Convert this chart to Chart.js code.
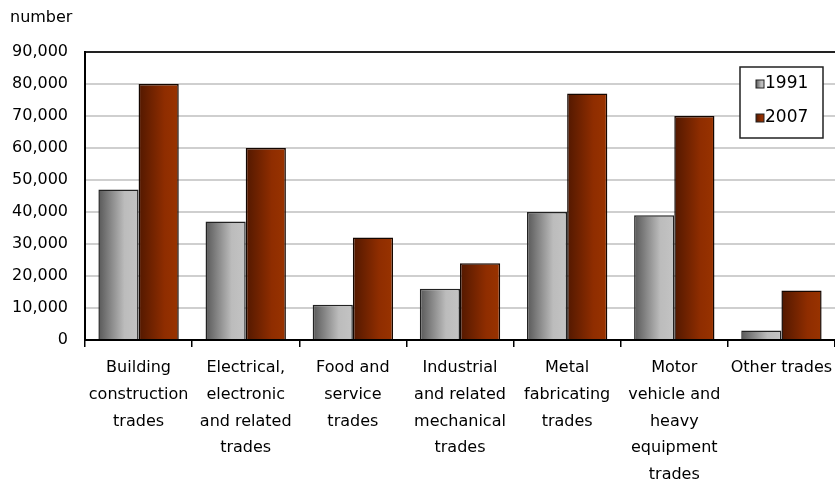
<!DOCTYPE html>
<html lang="en">
<head>
  <meta charset="UTF-8">
  <title>Trades</title>
  <script src="https://cdn.jsdelivr.net/npm/chart.js"></script>
  <style>
    body { margin: 0; background: #fff; }
    .chart-container { width: 835px; height: 479px; position: relative; }
  </style>
</head>
<body>
  <div class="chart-container">
    <canvas id="dataChart"></canvas>
  </div>

  <script>
    // data
    const categories = [
      ['Building', 'construction', 'trades'],
      ['Electrical,', 'electronic', 'and related', 'trades'],
      ['Food and', 'service', 'trades'],
      ['Industrial', 'and related', 'mechanical', 'trades'],
      ['Metal', 'fabricating', 'trades'],
      ['Motor', 'vehicle and', 'heavy', 'equipment', 'trades'],
      ['Other trades']
    ];
    const years = ['1991', '2007'];
    const values1991 = [47000, 37000, 11000, 16000, 40000, 39000, 3000];
    const values2007 = [80000, 60000, 32000, 24000, 77000, 70000, 15500];
    const yTicks = [0, 10000, 20000, 30000, 40000, 50000, 60000, 70000, 80000, 90000];

    const FONT = 'DejaVu Sans';
    const CAT_PCT = 0.75;
    const grayStops = [[0, '#585858'], [0.65, '#bcbcbc'], [1, '#c4c4c4']];
    const redStops = [[0, '#521800'], [0.65, '#8f2d00'], [1, '#993300']];

    function makeGradient(c, x0, x1, stops) {
      const g = c.createLinearGradient(x0, 0, x1, 0);
      stops.forEach(s => g.addColorStop(s[0], s[1]));
      return g;
    }

    // horizontal gradient across each single bar
    function barFill(stops) {
      return function (ctx) {
        const chart = ctx.chart;
        const xs = chart.scales.x;
        if (!chart.chartArea || !xs || ctx.dataIndex === undefined) return stops[1][1];
        const center = xs.getPixelForValue(ctx.dataIndex);
        const bw = (xs.width / categories.length) * CAT_PCT / 2;
        const left = center - bw + ctx.datasetIndex * bw;
        return makeGradient(chart.ctx, left, left + bw, stops);
      };
    }

    // "number" unit label and the boxed legend
    const extras = {
      id: 'extras',
      afterDraw(chart) {
        const c = chart.ctx;
        const area = chart.chartArea;
        c.save();
        c.font = '16px "' + FONT + '"';
        c.fillStyle = '#000';
        c.textBaseline = 'middle';
        c.textAlign = 'left';
        c.fillText('number', 10, 18);

        const bx = area.right - 95, by = area.top + 15, bwid = 83, bh = 71;
        c.fillStyle = '#fff';
        c.fillRect(bx, by, bwid, bh);
        c.strokeStyle = '#222';
        c.lineWidth = 1.5;
        c.strokeRect(bx, by, bwid, bh);

        c.font = '17px "' + FONT + '"';
        chart.data.datasets.forEach((ds, i) => {
          const sy = by + 17 + i * 34;
          const sx = bx + 16;
          const stops = i === 0 ? grayStops : redStops;
          c.fillStyle = makeGradient(c, sx, sx + 8, stops);
          c.fillRect(sx, sy - 4, 8, 8);
          c.strokeStyle = '#222';
          c.lineWidth = 1;
          c.strokeRect(sx, sy - 4, 8, 8);
          c.fillStyle = '#000';
          c.fillText(ds.label, sx + 9, sy);
        });
        c.restore();
      }
    };

    const ctx = document.getElementById('dataChart').getContext('2d');
    new Chart(ctx, {
      type: 'bar',
      data: {
        labels: categories,
        datasets: [
          {
            label: years[0],
            data: values1991,
            backgroundColor: barFill(grayStops),
            borderColor: '#222',
            borderWidth: 1.5,
            categoryPercentage: CAT_PCT,
            barPercentage: 1
          },
          {
            label: years[1],
            data: values2007,
            backgroundColor: barFill(redStops),
            borderColor: '#140600',
            borderWidth: 1.5,
            categoryPercentage: CAT_PCT,
            barPercentage: 1
          }
        ]
      },
      options: {
        responsive: true,
        maintainAspectRatio: false,
        animation: false,
        layout: { padding: { top: 52, left: 10, right: 0, bottom: 0 } },
        plugins: {
          legend: { display: false },
          tooltip: { enabled: false }
        },
        scales: {
          x: {
            afterFit(scale) {
              scale.height = 139;
              scale.paddingLeft = 0;
              scale.paddingRight = 0;
            },
            grid: {
              drawOnChartArea: false,
              drawTicks: true,
              tickLength: 7,
              color: '#000',
              lineWidth: 1.5
            },
            border: { color: '#000', width: 2 },
            ticks: {
              color: '#000',
              font: { family: FONT, size: 16, lineHeight: 1.66 },
              maxRotation: 0,
              autoSkip: false,
              padding: 8
            }
          },
          y: {
            min: 0,
            max: 90000,
            afterBuildTicks(scale) {
              scale.ticks = yTicks.map(v => ({ value: v }));
            },
            afterFit(scale) { scale.width = 75; },
            grid: {
              drawTicks: false,
              color: c => (c.tick && c.tick.value === 90000) ? '#222' : '#cfcfcf',
              lineWidth: 2
            },
            border: { color: '#000', width: 2 },
            ticks: {
              color: '#000',
              font: { family: FONT, size: 16 },
              padding: 17,
              callback: v => v.toLocaleString('en-US')
            }
          }
        }
      },
      plugins: [extras]
    });
  </script>
</body>
</html>
